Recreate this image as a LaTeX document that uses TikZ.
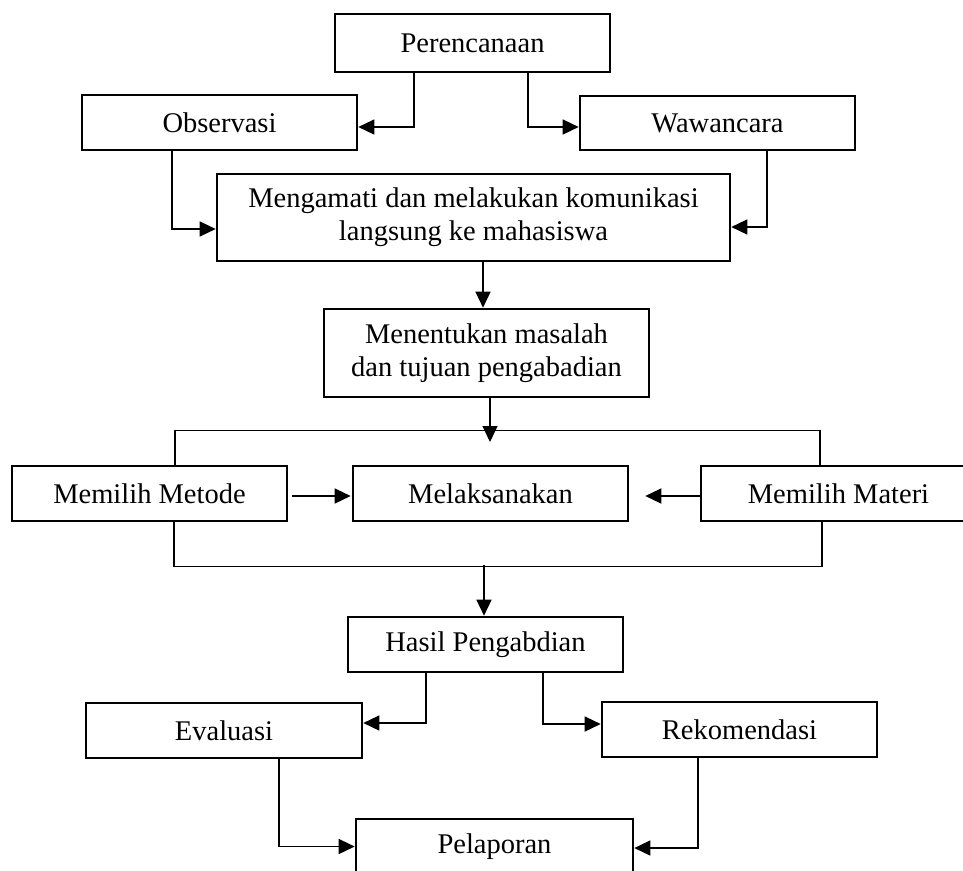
\documentclass[tikz,border=0pt]{standalone}
\usepackage{fontspec}
\setmainfont{Liberation Serif}
\usetikzlibrary{arrows.meta}
\tikzset{
  box/.style={draw, line width=2.6pt, rectangle, inner sep=0pt, align=center,
    font=\fontsize{28.5}{33}\selectfont},
  conn/.style={line width=1.4pt},
  arr/.style={conn, -{Triangle[length=16pt,width=15pt]}},
}
\begin{document}
\begin{tikzpicture}[x=1pt,y=-1pt]
\useasboundingbox (0,0) rectangle (963,870);
\clip (0,0) rectangle (963,870);
\fill[white] (0,0) rectangle (963,870);

\node[box, minimum width=275pt, minimum height=58pt] (per) at (472.5,43) {Perencanaan};
\node[box, minimum width=275pt, minimum height=55pt] (obs) at (219.5,122.5) {Observasi};
\node[box, minimum width=275pt, minimum height=54pt] (waw) at (717.5,123) {Wawancara};
\node[box, minimum width=513pt, minimum height=87pt] (meng) at (473.5,217.5) {Mengamati dan melakukan komunikasi\\langsung ke mahasiswa};
\node[box, minimum width=325pt, minimum height=88pt] (ment) at (486.5,353) {Menentukan masalah\\dan tujuan pengabadian};
\node[box, minimum width=275pt, minimum height=55pt] (met) at (149.5,493.5) {Memilih Metode};
\node[box, minimum width=275pt, minimum height=55pt] (mel) at (490.5,493.5) {Melaksanakan};
\node[box, minimum width=275pt, minimum height=55pt] (mat) at (838.5,493.5) {Memilih Materi};
\node[box, minimum width=275pt, minimum height=55pt] (has) at (485.5,644.5) {Hasil Pengabdian};
\node[box, minimum width=276pt, minimum height=55pt] (eva) at (224,730.5) {Evaluasi};
\node[box, minimum width=275pt, minimum height=55pt] (rek) at (739.5,729.5) {Rekomendasi};
\node[box, minimum width=277pt, minimum height=55pt] (pel) at (494.5,846.5) {\raisebox{-4pt}{Pelaporan}};

\coordinate (tbar) at (490,442);
\coordinate (bbar) at (484,565);

% top part
\draw[arr] ([xshift=-58.5pt]per.south) |- ([yshift=-4.5pt]obs.east);
\draw[arr] ([xshift=55.5pt]per.south) |- ([yshift=-4pt]waw.west);
\draw[arr] ([xshift=-47.5pt]obs.south) |- ([yshift=-11.5pt]meng.west);
\draw[arr] ([xshift=49.5pt]waw.south) |- ([yshift=-9.5pt]meng.east);
\draw[arr] ([xshift=9.5pt]meng.south) -- ([xshift=-3.5pt]ment.north);

% middle
\draw[arr] ([xshift=3.5pt]ment.south) -- (tbar);
\draw[conn] ([xshift=25.5pt]met.north) |- ([xshift=-18.5pt,yshift=34pt]mat.north) -- ([xshift=-18.5pt]mat.north);
\draw[arr] ([xshift=4pt,yshift=-2.5pt]met.east) -- ([xshift=-1pt,yshift=-2.5pt]mel.west);
\draw[arr] ([yshift=-2.5pt]mat.west) -- ([xshift=16pt,yshift=-2.5pt]mel.east);
\draw[conn] ([xshift=24.5pt]met.south) |- ([xshift=-16.5pt,yshift=-44pt]mat.south) -- ([xshift=-16.5pt]mat.south);
\draw[arr] (bbar) -- ([xshift=-1.5pt]has.north);

% bottom
\draw[arr] ([xshift=-59.5pt]has.south) |- ([yshift=7.5pt]eva.east);
\draw[arr] ([xshift=57.5pt]has.south) |- ([yshift=5.5pt]rek.west);
\draw[arr] ([xshift=55pt]eva.south) |- (pel.west);
\draw[arr] ([xshift=-41.5pt]rek.south) |- ([yshift=-1.5pt]pel.east);
\end{tikzpicture}
\end{document}
